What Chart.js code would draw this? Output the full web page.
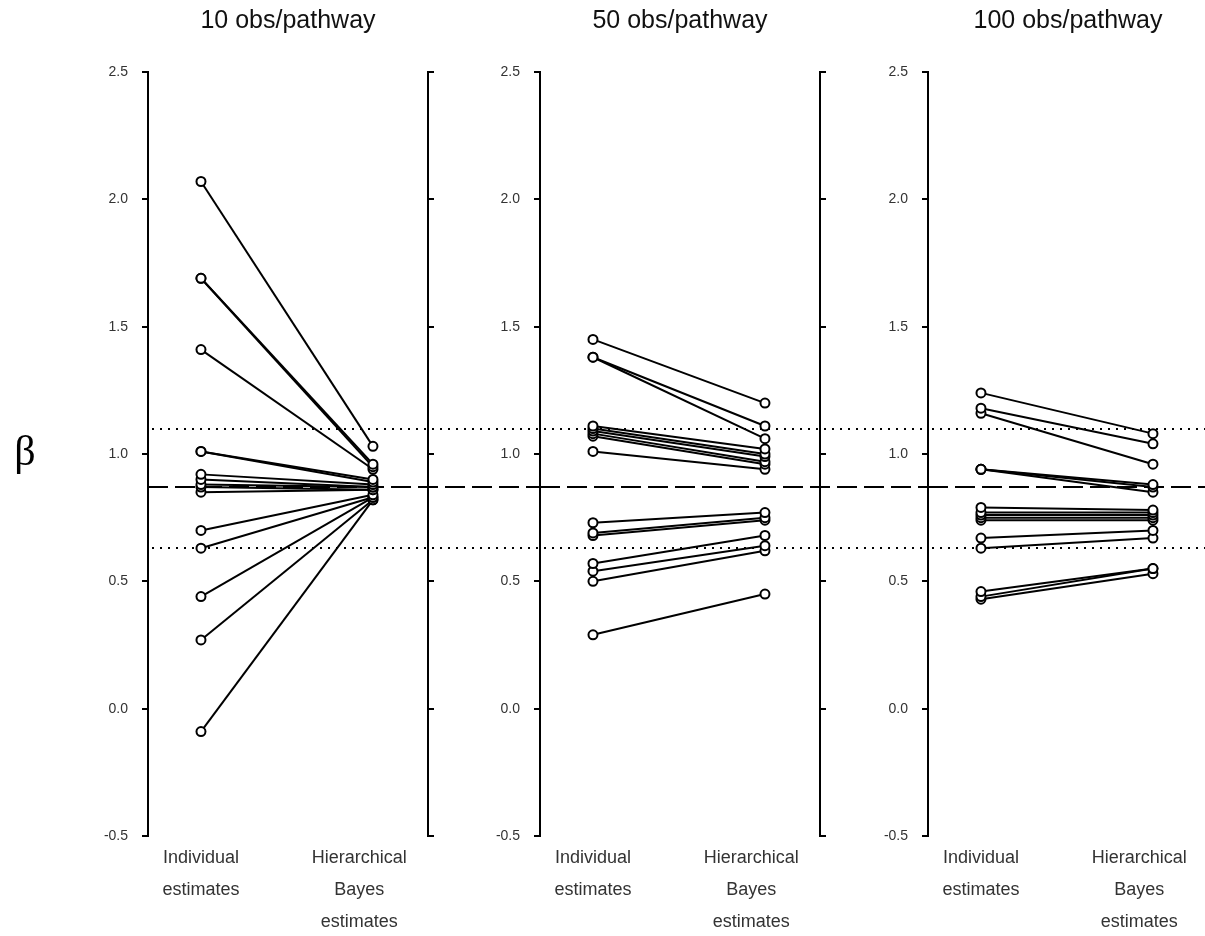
<!DOCTYPE html>
<html>
<head>
<meta charset="utf-8">
<script src="https://cdn.jsdelivr.net/npm/chart.js@4/dist/chart.umd.min.js"></script>
<style>
  html, body { margin: 0; padding: 0; background: #fff; overflow: hidden; }
  body { width: 1205px; height: 936px; position: relative; }
  .panel { position: absolute; top: 0; height: 936px; }
</style>
</head>
<body>
<div class="panel" id="p0" style="left:0px;width:540px"><canvas id="c0"></canvas></div>
<div class="panel" id="p1" style="left:392px;width:536px"><canvas id="c1"></canvas></div>
<div class="panel" id="p2" style="left:780px;width:435px"><canvas id="c2"></canvas></div>
<script>
// panel titles
const titles = ['10 obs/pathway', '50 obs/pathway', '100 obs/pathway'];
const xLabels = [['Individual', 'estimates'], ['Hierarchical', 'Bayes', 'estimates']];
const yTicks = [-0.5, 0.0, 0.5, 1.0, 1.5, 2.0, 2.5];

// individual estimate -> hierarchical Bayes estimate, one pair per pathway
const indiv10  = [2.07, 1.69, 1.69, 1.41, 1.01, 1.01, 0.92, 0.90, 0.88, 0.87, 0.85, 0.70, 0.63, 0.44, 0.27, -0.09];
const hier10   = [1.03, 0.96, 0.95, 0.94, 0.90, 0.89, 0.88, 0.87, 0.87, 0.86, 0.86, 0.84, 0.83, 0.83, 0.82, 0.82];
const indiv50  = [1.45, 1.38, 1.38, 1.11, 1.10, 1.09, 1.08, 1.07, 1.01, 0.73, 0.69, 0.68, 0.57, 0.54, 0.50, 0.29];
const hier50   = [1.20, 1.11, 1.06, 1.02, 1.00, 0.99, 0.97, 0.96, 0.94, 0.77, 0.75, 0.74, 0.68, 0.64, 0.62, 0.45];
const indiv100 = [1.24, 1.18, 1.16, 0.94, 0.94, 0.94, 0.79, 0.77, 0.76, 0.75, 0.74, 0.67, 0.63, 0.46, 0.44, 0.43];
const hier100  = [1.08, 1.04, 0.96, 0.88, 0.87, 0.85, 0.78, 0.77, 0.76, 0.75, 0.74, 0.70, 0.67, 0.55, 0.55, 0.53];

// reference lines: dotted band and dashed mean
const dottedLines = [1.10, 0.63];
const dashedLines = [0.87];

const panels = [[indiv10, hier10], [indiv50, hier50], [indiv100, hier100]];

const font = "'Liberation Sans', Arial, sans-serif";

const refLinesPlugin = {
  id: 'refLines',
  beforeDatasetsDraw(chart) {
    const ctx = chart.ctx, y = chart.scales.y;
    const x0 = chart.chartArea.left, x1 = chart.width;
    ctx.save();
    ctx.strokeStyle = '#000';
    ctx.lineWidth = 2;
    ctx.setLineDash([2, 6]);
    dottedLines.forEach(v => {
      const py = Math.round(y.getPixelForValue(v));
      ctx.beginPath(); ctx.moveTo(x0 + 4, py); ctx.lineTo(x1, py); ctx.stroke();
    });
    ctx.setLineDash([20, 7]);
    dashedLines.forEach(v => {
      const py = Math.round(y.getPixelForValue(v));
      ctx.beginPath(); ctx.moveTo(x0, py); ctx.lineTo(x1, py); ctx.stroke();
    });
    ctx.restore();
  }
};

const betaPlugin = {
  id: 'beta',
  afterDraw(chart) {
    if (chart.canvas.id !== 'c0') return;
    const ctx = chart.ctx;
    ctx.save();
    ctx.fillStyle = '#000';
    ctx.font = "42px 'Liberation Serif', 'Times New Roman', serif";
    ctx.textAlign = 'center';
    ctx.textBaseline = 'middle';
    ctx.fillText('β', 25, chart.scales.y.getPixelForValue(1.0));
    ctx.restore();
  }
};

panels.forEach(([indiv, hier], i) => {
  const divW = document.getElementById('p' + i).offsetWidth;
  const datasets = indiv.map((v, k) => ({
    data: [{x: 0, y: v}, {x: 1, y: hier[k]}],
    borderColor: '#000',
    borderWidth: 2,
    pointRadius: 4.5,
    pointBorderWidth: 2,
    pointBorderColor: '#000',
    pointBackgroundColor: '#fff',
    fill: false
  }));

  const yAxis = (pos, showLabels, w) => ({
    type: 'linear',
    position: pos,
    min: -0.5,
    max: 2.5,
    afterBuildTicks: s => { s.ticks = yTicks.map(v => ({value: v})); },
    afterFit: s => { s.width = w; },
    grid: { drawOnChartArea: false, color: '#000', lineWidth: 2, tickLength: 6 },
    border: { color: '#000', width: 2 },
    ticks: {
      display: showLabels,
      padding: 14,
      color: '#333',
      font: { family: font, size: 14 },
      callback: v => v.toFixed(1)
    }
  });

  new Chart(document.getElementById('c' + i), {
    type: 'line',
    data: { datasets },
    options: {
      responsive: true,
      maintainAspectRatio: false,
      animation: false,
      layout: { padding: 0 },
      scales: {
        x: {
          type: 'linear',
          min: -0.308,
          max: 1.32,
          afterBuildTicks: s => { s.ticks = [{value: 0}, {value: 0.92}]; },
          afterFit: s => { s.height = 100; },
          grid: { display: false, drawTicks: false },
          border: { display: false },
          ticks: {
            autoSkip: false,
            maxRotation: 0,
            padding: 6,
            color: '#333',
            font: { family: font, size: 18, lineHeight: 1.78 },
            callback: (v, idx) => xLabels[idx]
          }
        },
        y: yAxis('left', true, 148),
        y2: yAxis('right', false, divW - 148 - 280)
      },
      plugins: {
        legend: { display: false },
        tooltip: { enabled: false },
        title: {
          display: true,
          text: titles[i],
          fullSize: false,
          color: '#111',
          font: { family: font, size: 25, weight: 'normal', lineHeight: 1.2 },
          padding: { top: 6, bottom: 36 }
        }
      }
    },
    plugins: [refLinesPlugin, betaPlugin]
  });
});
</script>
</body>
</html>
